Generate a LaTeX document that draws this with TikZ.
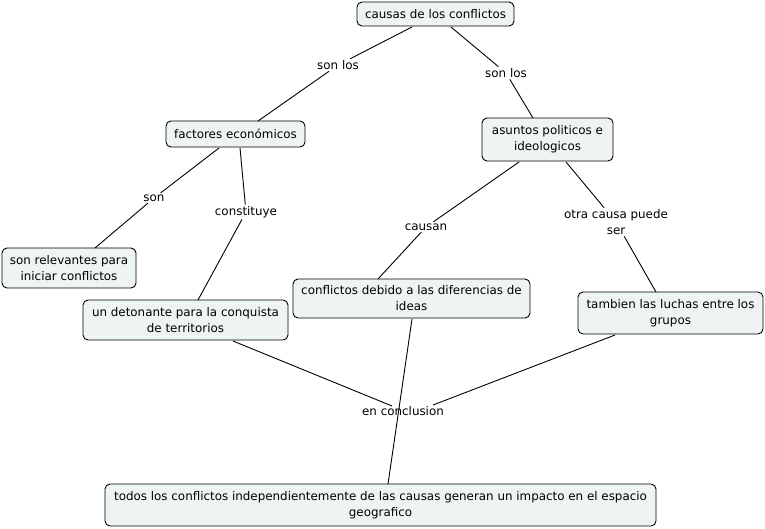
\documentclass[tikz,border=0pt]{standalone}
\usepackage{fontspec}
\setmainfont{DejaVu Sans}
\begin{document}
\begin{tikzpicture}[x=1pt,y=-1pt,
  concept/.style={draw=black,fill=boxfill,rounded corners=5pt,line width=0.9pt,align=center,font=\fontsize{11.9}{16}\selectfont,inner sep=0pt},
  linklabel/.style={align=center,font=\fontsize{11.9}{16}\selectfont,inner sep=1.5pt},
  conn/.style={draw=black,line width=0.9pt}]
\definecolor{boxfill}{HTML}{EEF4F4}
\useasboundingbox (0,0) rectangle (765,528);
\node[concept,minimum width=157pt,minimum height=24pt] (causas) at (435.5,14) {causas de los conflictos};
\node[concept,minimum width=139pt,minimum height=26pt] (factores) at (235.5,134) {factores económicos};
\node[concept,minimum width=131pt,minimum height=43pt] (asuntos) at (547.5,139.5) {asuntos politicos e\\ideologicos};
\node[concept,minimum width=134pt,minimum height=40pt] (relev) at (69,268) {son relevantes para\\iniciar conflictos};
\node[concept,minimum width=205pt,minimum height=40pt] (deton) at (185.5,320) {un detonante para la conquista\\de territorios};
\node[concept,minimum width=237pt,minimum height=39pt] (confl) at (411.5,298.5) {conflictos debido a las diferencias de\\ideas};
\node[concept,minimum width=185pt,minimum height=42pt] (tamb) at (670.5,313) {tambien las luchas entre los\\grupos};
\node[concept,minimum width=551pt,minimum height=42pt] (todos) at (380.5,505) {todos los conflictos independientemente de las causas generan un impacto en el espacio\\geografico};

\node[linklabel] (l1) at (338,65) {son los};
\node[linklabel] (l2) at (506,73) {son los};
\node[linklabel] (l3) at (154,198) {son};
\node[linklabel] (l4) at (246,212) {constituye};
\node[linklabel] (l5) at (426,227) {causan};
\node[linklabel] (l6) at (616,222) {otra causa puede\\ser};
\node[linklabel] (l7) at (403,411) {en conclusion};

\draw[conn] (412,27) -- (l1);
\draw[conn] (l1) -- (258,121);
\draw[conn] (451,27) -- (l2);
\draw[conn] (l2) -- (533,118);
\draw[conn] (219,148) -- (l3);
\draw[conn] (l3) -- (95,248);
\draw[conn] (240,148) -- (l4);
\draw[conn] (l4) -- (198,300);
\draw[conn] (519,162) -- (l5);
\draw[conn] (l5) -- (378,279);
\draw[conn] (566,162) -- (l6);
\draw[conn] (l6) -- (656,292);
\draw[conn] (233,341) -- (392,406);
\draw[conn] (615,335) -- (433,405);
\draw[conn] (412,319) -- (388,484);
\end{tikzpicture}
\end{document}
